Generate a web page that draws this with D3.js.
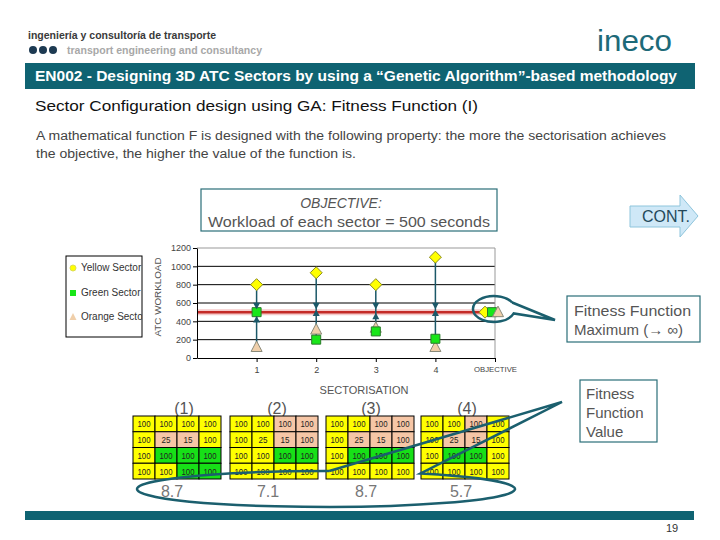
<!DOCTYPE html>
<html><head><meta charset="utf-8">
<script src="https://cdn.jsdelivr.net/npm/d3@7"></script>
<style>body{margin:0;background:#fff}svg{display:block}text{font-family:"Liberation Sans",Arial,sans-serif}</style>
</head><body><svg id="c" width="720" height="540"></svg>
<script>
// ---- data ----
const sectorisations = [1, 2, 3, 4];
const xTickLabels = ["1", "2", "3", "4", "OBJECTIVE"];
const yTicks = [0, 200, 400, 600, 800, 1000, 1200];
const yellowSector = [800, 930, 800, 1100];
const greenSector = [500, 200, 290, 210];
const orangeSector = [120, 310, 330, 120];
const upperMark = [570, 570, 570, 570];
const lowerMark = [420, 490, 455, 490];
const objectiveValue = 500;
const fitnessValues = ["8.7", "7.1", "8.7", "5.7"];
const gridLabels = ["(1)", "(2)", "(3)", "(4)"];
const cellValues = [[100,100,100,100],[100,25,15,100],[100,100,100,100],[100,100,100,100]];
// colour codes: Y yellow, O orange, G green
const gridColours = [
  ["YYYY","YOOY","YGGG","YYGG"],
  ["YYOO","YYOO","YYGG","YYYY"],
  ["YYOO","YOOO","YGGG","YYYY"],
  ["YYOY","YOOY","YGGY","YYYY"]
];
const legendLabels = ["Yellow Sector", "Green Sector", "Orange Sector"];

const svg = d3.select("#c");
const teal = "#0f6372";
const colMap = {Y:"#ffff00", O:"#f6c6a6", G:"#17e017"};

// ---- header ----
svg.append("text").attr("x",28).attr("y",39).attr("font-size",10.5).attr("font-weight","bold")
  .attr("fill","#3a3a3a").attr("textLength",188).attr("lengthAdjust","spacingAndGlyphs")
  .style("font-family","'Liberation Sans Narrow','Liberation Sans',sans-serif")
  .text("ingeniería y consultoría de transporte");
[33,43,53].forEach(cx=>svg.append("circle").attr("cx",cx).attr("cy",50).attr("r",4).attr("fill","#1d3a52"));
svg.append("text").attr("x",67).attr("y",54).attr("font-size",10.5).attr("font-weight","bold")
  .attr("fill","#a8a8a8").attr("textLength",195).attr("lengthAdjust","spacingAndGlyphs")
  .style("font-family","'Liberation Sans Narrow','Liberation Sans',sans-serif")
  .text("transport engineering and consultancy");
svg.append("text").attr("x",597).attr("y",51).attr("font-size",30).attr("fill","#1d6a79")
  .attr("textLength",75).attr("lengthAdjust","spacingAndGlyphs").text("ineco");

svg.append("rect").attr("x",25).attr("y",63).attr("width",670).attr("height",26).attr("fill",teal);
svg.append("text").attr("x",35).attr("y",81).attr("font-size",14).attr("font-weight","bold").attr("fill","#fff")
  .attr("textLength",642).attr("lengthAdjust","spacingAndGlyphs")
  .text("EN002 - Designing 3D ATC Sectors by using a “Genetic Algorithm”-based methodology");

svg.append("text").attr("x",35).attr("y",111).attr("font-size",14).attr("fill","#111")
  .attr("textLength",443).attr("lengthAdjust","spacingAndGlyphs")
  .text("Sector Configuration design using GA: Fitness Function (I)");
svg.append("text").attr("x",36).attr("y",140).attr("font-size",12.5).attr("fill","#444")
  .attr("textLength",630).attr("lengthAdjust","spacingAndGlyphs")
  .text("A mathematical function F is designed with the following property: the more the sectorisation achieves");
svg.append("text").attr("x",36).attr("y",158).attr("font-size",12.5).attr("fill","#444")
  .attr("textLength",320).attr("lengthAdjust","spacingAndGlyphs")
  .text("the objective, the higher the value of the function is.");

// ---- objective box ----
svg.append("rect").attr("x",201).attr("y",189).attr("width",296).attr("height",42).attr("fill","#fff")
  .attr("stroke","#2a6e78").attr("stroke-width",1.2);
svg.append("text").attr("x",341).attr("y",208).attr("text-anchor","middle").attr("font-size",14)
  .attr("font-style","italic").attr("fill","#555").text("OBJECTIVE:");
svg.append("text").attr("x",208).attr("y",227).attr("font-size",14).attr("fill","#555")
  .attr("textLength",282).attr("lengthAdjust","spacingAndGlyphs").text("Workload of each sector = 500 seconds");

// ---- CONT arrow ----
svg.append("path").attr("d","M630,206 L680,206 L680,195 L698,216 L680,237 L680,227 L630,227 Z")
  .attr("fill","#cfe8f7").attr("stroke","#8ec5dc").attr("stroke-width",1);
svg.append("text").attr("x",642).attr("y",222).attr("font-size",16).attr("fill","#24485a").text("CONT.");

// ---- chart ----
const x = d3.scaleLinear().domain([0,5]).range([197,495]);
const y = d3.scaleLinear().domain([0,1200]).range([358,248]);

svg.append("g").selectAll("line").data(yTicks.filter(v=>v>0 && v<1200)).join("line")
  .attr("x1",x(0)).attr("x2",x(5)).attr("y1",d=>y(d)).attr("y2",d=>y(d)).attr("stroke","#000").attr("stroke-width",1);
svg.append("path").attr("d",`M${x(0)},${y(1200)} H${x(5)} V${y(0)}`).attr("fill","none").attr("stroke","#999");

svg.append("line").attr("x1",x(0)).attr("x2",x(4.77)).attr("y1",y(objectiveValue)).attr("y2",y(objectiveValue))
  .attr("stroke","#f2b5b5").attr("stroke-width",6).attr("opacity",0.7);
svg.append("line").attr("x1",x(0)).attr("x2",x(4.77)).attr("y1",y(objectiveValue)).attr("y2",y(objectiveValue))
  .attr("stroke","#c42a26").attr("stroke-width",2.5);

const ya = svg.append("g").attr("transform",`translate(${x(0)},0)`)
  .call(d3.axisLeft(y).tickValues(yTicks).tickFormat(d3.format("d")).tickSize(4).tickSizeOuter(0).tickPadding(2));
ya.select(".domain").attr("stroke","#000");
ya.selectAll("text").attr("font-size",9).attr("fill","#444");
const xa = svg.append("g").attr("transform",`translate(0,${y(0)})`)
  .call(d3.axisBottom(x).tickValues([1,2,3,4,5]).tickFormat((d,i)=>xTickLabels[i]).tickSize(4).tickSizeOuter(0).tickPadding(5));
xa.select(".domain").attr("stroke","#000");
xa.selectAll("text").attr("font-size",9).attr("fill","#444");
xa.selectAll("text").filter((d)=>d===5).attr("font-size",7).attr("textLength",43).attr("lengthAdjust","spacingAndGlyphs");

svg.append("text").attr("transform","translate(161,297) rotate(-90)").attr("text-anchor","middle")
  .attr("font-size",9).attr("fill","#555").attr("textLength",79).attr("lengthAdjust","spacingAndGlyphs").text("ATC WORKLOAD");
svg.append("text").attr("x",364).attr("y",394).attr("text-anchor","middle").attr("font-size",11)
  .attr("fill","#555").text("SECTORISATION");

const stemCol = "#1b5868";
const rows = sectorisations.map((s,i)=>({s, yel:yellowSector[i], grn:greenSector[i], org:orangeSector[i], up:upperMark[i], lo:lowerMark[i]}));
svg.append("g").selectAll("line").data(rows).join("line")
  .attr("x1",d=>x(d.s)).attr("x2",d=>x(d.s))
  .attr("y1",d=>y(Math.max(d.yel,d.grn,d.org))).attr("y2",d=>y(Math.min(d.yel,d.grn,d.org)))
  .attr("stroke",stemCol).attr("stroke-width",1.5);

const diamond = (cx,cy)=>`M${cx},${cy-6}L${cx+6},${cy}L${cx},${cy+6}L${cx-6},${cy}Z`;
const square = (cx,cy)=>`M${cx-4.5},${cy-4.5}h9v9h-9Z`;
const tri = (cx,cy)=>`M${cx},${cy-6}L${cx+5.5},${cy+4.5}L${cx-5.5},${cy+4.5}Z`;
const tUp = (cx,cy)=>`M${cx},${cy-3.5}L${cx+3.5},${cy+3}L${cx-3.5},${cy+3}Z`;
const tDn = (cx,cy)=>`M${cx},${cy+3.5}L${cx+3.5},${cy-3}L${cx-3.5},${cy-3}Z`;

const mk = svg.append("g");
mk.selectAll(".o").data(rows).join("path").attr("d",d=>tri(x(d.s),y(d.org)))
  .attr("fill","#f0cfaa").attr("stroke","#8a8a7a").attr("stroke-width",1);
mk.selectAll(".g").data(rows).join("path").attr("d",d=>square(x(d.s),y(d.grn)))
  .attr("fill","#19e619").attr("stroke","#2b7a2b").attr("stroke-width",1);
mk.selectAll(".y").data(rows).join("path").attr("d",d=>diamond(x(d.s),y(d.yel)))
  .attr("fill","#ffff00").attr("stroke","#8a8a20").attr("stroke-width",1);
mk.selectAll(".u").data(rows).join("path").attr("d",d=>tDn(x(d.s),y(d.up))).attr("fill",stemCol);
mk.selectAll(".l").data(rows).join("path").attr("d",d=>tUp(x(d.s),y(d.lo))).attr("fill",stemCol);

mk.append("path").attr("d",diamond(x(5)-10,y(objectiveValue))).attr("fill","#ffff00").attr("stroke","#8a8a20");
mk.append("path").attr("d",square(x(5)-3,y(objectiveValue))).attr("fill","#19e619").attr("stroke","#2b7a2b");
mk.append("path").attr("d",tri(x(5)+3,y(objectiveValue))).attr("fill","#f0cfaa").attr("stroke","#8a8a7a");

// legend
svg.append("clipPath").attr("id","lc").append("rect").attr("x",66).attr("y",256).attr("width",76).attr("height",81);
svg.append("rect").attr("x",66).attr("y",256).attr("width",76).attr("height",81).attr("fill","#fff").attr("stroke","#000");
const lg = svg.append("g").attr("clip-path","url(#lc)");
lg.append("circle").attr("cx",73).attr("cy",268).attr("r",3).attr("fill","#ffff00").attr("stroke","#dddd55");
lg.append("rect").attr("x",70).attr("y",290).attr("width",6).attr("height",6).attr("fill","#19e619");
lg.append("path").attr("d","M73,313 L76.5,320 L69.5,320 Z").attr("fill","#f0cfaa");
lg.selectAll("text").data(legendLabels).join("text").attr("x",81).attr("y",(d,i)=>[271,296,320][i])
  .attr("font-size",10).attr("fill","#333").text(d=>d);

// fitness max box
svg.append("rect").attr("x",567).attr("y",296).attr("width",133).attr("height",46).attr("fill","#fff")
  .attr("stroke","#2a6e78").attr("stroke-width",1.2);
svg.append("text").attr("x",574).attr("y",316).attr("font-size",15).attr("fill","#555")
  .attr("textLength",117).attr("lengthAdjust","spacingAndGlyphs").text("Fitness Function");
svg.append("text").attr("x",574).attr("y",335).attr("font-size",15).attr("fill","#555").text("Maximum (→ ∞)");

// fitness value box
svg.append("rect").attr("x",580).attr("y",380).attr("width",77).attr("height",62).attr("fill","#fff")
  .attr("stroke","#2a6e78").attr("stroke-width",1.2);
["Fitness","Function","Value"].forEach((t,i)=>svg.append("text").attr("x",586).attr("y",399+i*19)
  .attr("font-size",15).attr("fill","#555").text(t));

// grids
const gridX = [133, 230, 326, 421];
const labelX = [184, 277, 371, 467];
const valueX = [172, 268, 366, 461];
const cw = 22, ch = 15.75, gy = 416;
svg.append("g").selectAll("text").data(gridLabels).join("text").attr("x",(d,i)=>labelX[i]).attr("y",414)
  .attr("text-anchor","middle").attr("font-size",16).attr("fill","#555").text(d=>d);
gridColours.forEach((g,gi)=>{
  const gg = svg.append("g");
  for(let r=0;r<4;r++) for(let c=0;c<4;c++){
    gg.append("rect").attr("x",gridX[gi]+c*cw).attr("y",gy+r*ch).attr("width",cw).attr("height",ch)
      .attr("fill",colMap[g[r][c]]).attr("stroke","#000").attr("stroke-width",1);
    const v = cellValues[r][c];
    gg.append("text").attr("x",gridX[gi]+c*cw+cw/2).attr("y",gy+r*ch+ch/2+3.5).attr("text-anchor","middle")
      .attr("font-size",9.5).attr("fill","#222")
      .attr("textLength", String(v).length===3 ? 13 : 9).attr("lengthAdjust","spacingAndGlyphs").text(v);
  }
});
svg.append("g").selectAll("text").data(fitnessValues).join("text").attr("x",(d,i)=>valueX[i]).attr("y",497)
  .attr("text-anchor","middle").attr("font-size",16).attr("fill","#777").text(d=>d);

// callouts
function callout(cx,cy,rx,ry,a1,a2,tx,ty){
  const p=(a)=>[cx+rx*Math.cos(a*Math.PI/180), cy+ry*Math.sin(a*Math.PI/180)];
  const P1=p(a1), P2=p(a2);
  return `M${P2[0]},${P2[1]} L${tx},${ty} L${P1[0]},${P1[1]} A${rx},${ry} 0 1 1 ${P2[0]},${P2[1]}`;
}
svg.append("path").attr("d",callout(494,309,21,13,20,-30,555,320)).attr("fill","none")
  .attr("stroke","#1b5f6e").attr("stroke-width",2.5);
svg.append("path").attr("d",callout(326,489,189,18,-60,-89,562,402)).attr("fill","none")
  .attr("stroke","#1b5f6e").attr("stroke-width",2.5);

// footer
svg.append("rect").attr("x",25).attr("y",511).attr("width",669).attr("height",9).attr("fill",teal);
svg.append("text").attr("x",666).attr("y",532).attr("font-size",11).attr("fill","#333").text("19");
</script></body></html>
